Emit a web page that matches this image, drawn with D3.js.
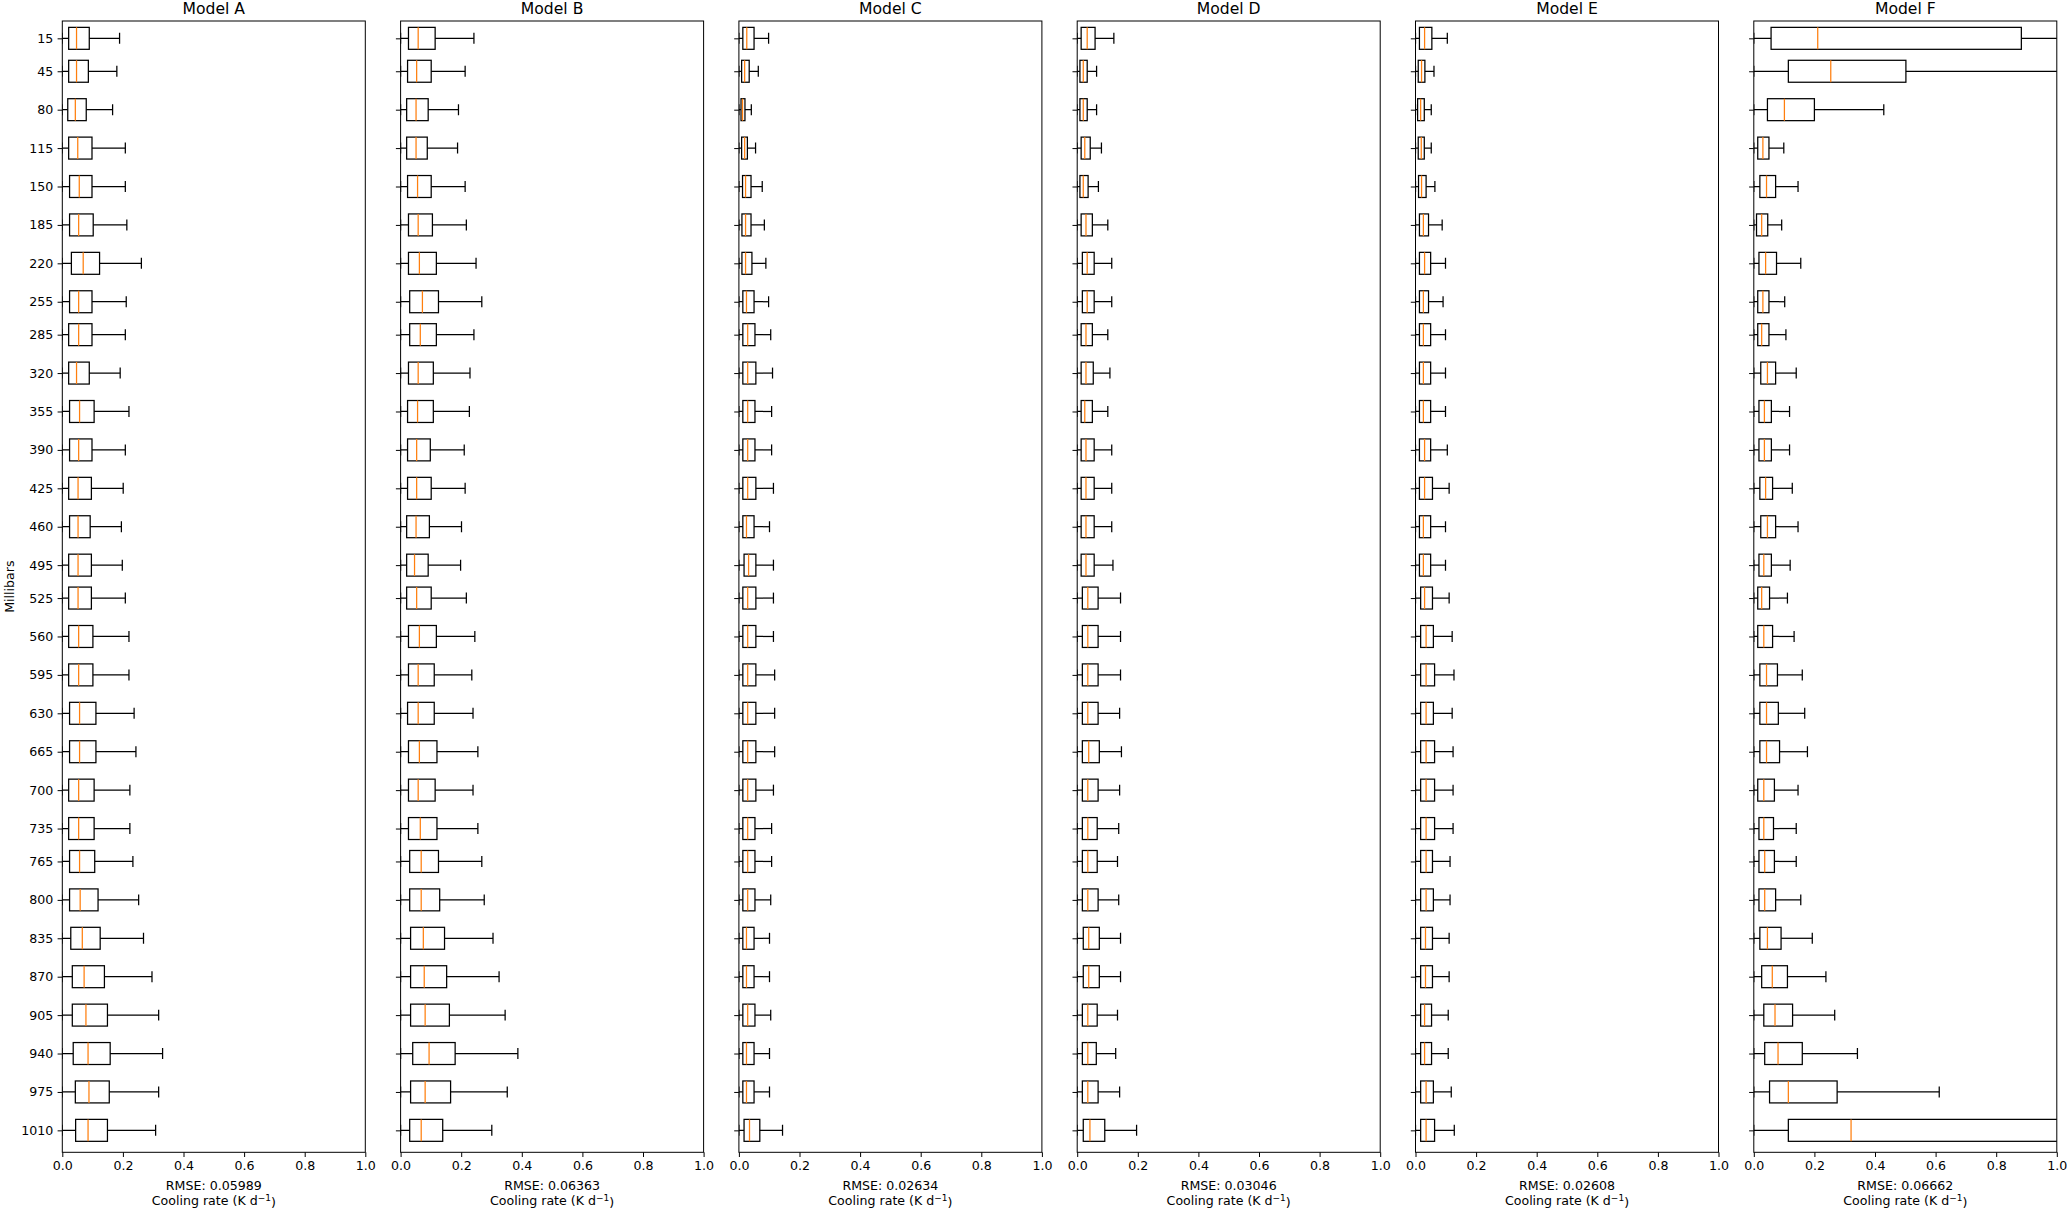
<!DOCTYPE html>
<html>
<head>
<meta charset="utf-8">
<script src="https://cdnjs.cloudflare.com/ajax/libs/d3/7.8.5/d3.min.js"></script>
<style>
  body { margin: 0; background: #fff; }
  text { font-family: "DejaVu Sans", sans-serif; fill: #000; }
</style>
</head>
<body>
<div id="chart"></div>
<script>
// pressure levels (mb), top to bottom
var levels = [15, 45, 80, 115, 150, 185, 220, 255, 285, 320, 355, 390, 425, 460, 495,
              525, 560, 595, 630, 665, 700, 735, 765, 800, 835, 870, 905, 940, 975, 1010];

var modelNames = ["Model A", "Model B", "Model C", "Model D", "Model E", "Model F"];
var rmseLabels = ["0.05989", "0.06363", "0.02634", "0.03046", "0.02608", "0.06662"];
var xTicks = [0.0, 0.2, 0.4, 0.6, 0.8, 1.0];

// lower whisker end, same for every model (reaches zero)
var lowWhisker = 0;

// rows per level: [q1, median, q3, upper whisker]
var modelA = [
  [0.021, 0.047, 0.089, 0.189], [0.021, 0.047, 0.086, 0.180], [0.018, 0.043, 0.079, 0.166],
  [0.021, 0.051, 0.098, 0.208], [0.024, 0.056, 0.098, 0.208], [0.024, 0.054, 0.102, 0.213],
  [0.030, 0.069, 0.123, 0.261], [0.024, 0.054, 0.098, 0.211], [0.021, 0.054, 0.098, 0.208],
  [0.021, 0.047, 0.089, 0.191], [0.024, 0.057, 0.105, 0.220], [0.024, 0.054, 0.098, 0.208],
  [0.021, 0.052, 0.096, 0.201], [0.024, 0.052, 0.092, 0.195], [0.021, 0.052, 0.096, 0.198],
  [0.021, 0.052, 0.096, 0.208], [0.021, 0.054, 0.101, 0.220], [0.021, 0.054, 0.101, 0.220],
  [0.024, 0.057, 0.111, 0.237], [0.024, 0.057, 0.111, 0.243], [0.021, 0.054, 0.105, 0.223],
  [0.021, 0.054, 0.105, 0.223], [0.024, 0.057, 0.107, 0.233], [0.024, 0.059, 0.118, 0.252],
  [0.028, 0.066, 0.125, 0.268], [0.033, 0.072, 0.139, 0.296], [0.033, 0.078, 0.149, 0.318],
  [0.036, 0.085, 0.158, 0.331], [0.043, 0.088, 0.155, 0.318], [0.044, 0.085, 0.149, 0.308]
];
var modelB = [
  [0.026, 0.058, 0.114, 0.242], [0.023, 0.053, 0.101, 0.213], [0.020, 0.051, 0.091, 0.191],
  [0.020, 0.051, 0.088, 0.188], [0.023, 0.056, 0.101, 0.213], [0.026, 0.058, 0.105, 0.217],
  [0.026, 0.062, 0.118, 0.249], [0.030, 0.072, 0.125, 0.268], [0.030, 0.065, 0.118, 0.242],
  [0.026, 0.058, 0.108, 0.229], [0.023, 0.056, 0.108, 0.227], [0.023, 0.053, 0.098, 0.210],
  [0.023, 0.053, 0.101, 0.213], [0.020, 0.051, 0.095, 0.201], [0.020, 0.046, 0.091, 0.198],
  [0.020, 0.053, 0.101, 0.217], [0.026, 0.062, 0.118, 0.245], [0.026, 0.058, 0.111, 0.235],
  [0.023, 0.058, 0.111, 0.239], [0.026, 0.062, 0.120, 0.255], [0.026, 0.058, 0.114, 0.239],
  [0.026, 0.065, 0.120, 0.255], [0.030, 0.068, 0.125, 0.268], [0.030, 0.068, 0.129, 0.276],
  [0.033, 0.075, 0.145, 0.305], [0.033, 0.078, 0.152, 0.325], [0.033, 0.081, 0.161, 0.345],
  [0.040, 0.094, 0.180, 0.387], [0.033, 0.081, 0.165, 0.352], [0.030, 0.068, 0.139, 0.301]
];
var modelC = [
  [0.013, 0.026, 0.050, 0.098], [0.009, 0.019, 0.034, 0.064], [0.007, 0.012, 0.020, 0.041],
  [0.009, 0.019, 0.028, 0.055], [0.012, 0.022, 0.040, 0.077], [0.010, 0.022, 0.040, 0.084],
  [0.010, 0.022, 0.043, 0.089], [0.013, 0.025, 0.050, 0.098], [0.013, 0.029, 0.053, 0.105],
  [0.013, 0.029, 0.056, 0.111], [0.013, 0.029, 0.053, 0.108], [0.013, 0.029, 0.053, 0.108],
  [0.013, 0.029, 0.056, 0.114], [0.013, 0.025, 0.050, 0.101], [0.017, 0.032, 0.056, 0.114],
  [0.013, 0.029, 0.056, 0.114], [0.013, 0.029, 0.056, 0.114], [0.013, 0.029, 0.056, 0.118],
  [0.013, 0.029, 0.056, 0.118], [0.013, 0.029, 0.056, 0.118], [0.013, 0.029, 0.056, 0.114],
  [0.013, 0.029, 0.053, 0.108], [0.013, 0.029, 0.053, 0.108], [0.013, 0.029, 0.053, 0.105],
  [0.013, 0.025, 0.050, 0.101], [0.013, 0.025, 0.050, 0.101], [0.013, 0.029, 0.053, 0.105],
  [0.013, 0.025, 0.050, 0.101], [0.013, 0.025, 0.050, 0.101], [0.017, 0.035, 0.069, 0.144]
];
var modelD = [
  [0.013, 0.033, 0.059, 0.121], [0.009, 0.020, 0.033, 0.064], [0.009, 0.020, 0.033, 0.064],
  [0.013, 0.025, 0.043, 0.080], [0.009, 0.020, 0.036, 0.070], [0.013, 0.029, 0.050, 0.101],
  [0.017, 0.033, 0.056, 0.114], [0.017, 0.033, 0.056, 0.114], [0.013, 0.029, 0.050, 0.101],
  [0.013, 0.029, 0.053, 0.108], [0.013, 0.025, 0.050, 0.101], [0.013, 0.029, 0.056, 0.114],
  [0.013, 0.029, 0.056, 0.114], [0.013, 0.029, 0.056, 0.114], [0.013, 0.029, 0.056, 0.118],
  [0.017, 0.035, 0.069, 0.143], [0.017, 0.035, 0.069, 0.143], [0.017, 0.035, 0.069, 0.143],
  [0.017, 0.035, 0.069, 0.140], [0.017, 0.038, 0.073, 0.146], [0.017, 0.035, 0.069, 0.140],
  [0.017, 0.035, 0.066, 0.137], [0.017, 0.035, 0.066, 0.133], [0.017, 0.035, 0.069, 0.137],
  [0.020, 0.038, 0.073, 0.143], [0.020, 0.038, 0.073, 0.143], [0.017, 0.035, 0.066, 0.133],
  [0.017, 0.035, 0.063, 0.127], [0.017, 0.035, 0.069, 0.140], [0.020, 0.042, 0.091, 0.196]
];
var modelE = [
  [0.013, 0.030, 0.054, 0.105], [0.009, 0.020, 0.031, 0.061], [0.007, 0.017, 0.029, 0.052],
  [0.009, 0.019, 0.029, 0.052], [0.010, 0.020, 0.035, 0.064], [0.013, 0.026, 0.043, 0.088],
  [0.013, 0.030, 0.050, 0.099], [0.013, 0.026, 0.043, 0.091], [0.013, 0.026, 0.050, 0.099],
  [0.013, 0.026, 0.050, 0.099], [0.013, 0.026, 0.050, 0.099], [0.013, 0.030, 0.050, 0.105],
  [0.013, 0.030, 0.056, 0.111], [0.013, 0.026, 0.050, 0.099], [0.013, 0.026, 0.050, 0.099],
  [0.017, 0.030, 0.056, 0.111], [0.017, 0.035, 0.059, 0.121], [0.017, 0.035, 0.063, 0.127],
  [0.017, 0.035, 0.059, 0.121], [0.017, 0.035, 0.063, 0.124], [0.017, 0.035, 0.063, 0.124],
  [0.017, 0.035, 0.063, 0.124], [0.017, 0.035, 0.056, 0.114], [0.017, 0.035, 0.059, 0.114],
  [0.017, 0.033, 0.056, 0.111], [0.017, 0.033, 0.056, 0.111], [0.017, 0.030, 0.053, 0.108],
  [0.017, 0.030, 0.053, 0.108], [0.017, 0.035, 0.059, 0.118], [0.017, 0.035, 0.063, 0.128]
];
var modelF = [
  [0.057, 0.211, 0.883, 1.200], [0.114, 0.254, 0.502, 1.100], [0.045, 0.101, 0.200, 0.429],
  [0.013, 0.030, 0.050, 0.099], [0.020, 0.042, 0.072, 0.146], [0.009, 0.026, 0.046, 0.092],
  [0.017, 0.039, 0.075, 0.155], [0.013, 0.030, 0.050, 0.102], [0.013, 0.026, 0.050, 0.106],
  [0.023, 0.045, 0.072, 0.140], [0.017, 0.035, 0.058, 0.118], [0.017, 0.035, 0.058, 0.118],
  [0.020, 0.039, 0.062, 0.127], [0.023, 0.045, 0.072, 0.146], [0.017, 0.033, 0.058, 0.120],
  [0.013, 0.026, 0.052, 0.111], [0.013, 0.033, 0.062, 0.133], [0.020, 0.042, 0.078, 0.160],
  [0.020, 0.042, 0.081, 0.168], [0.020, 0.042, 0.085, 0.177], [0.013, 0.033, 0.068, 0.146],
  [0.017, 0.033, 0.065, 0.140], [0.017, 0.036, 0.068, 0.140], [0.017, 0.036, 0.072, 0.155],
  [0.020, 0.045, 0.090, 0.193], [0.026, 0.061, 0.111, 0.238], [0.033, 0.070, 0.128, 0.267],
  [0.036, 0.080, 0.160, 0.342], [0.052, 0.114, 0.275, 0.612], [0.114, 0.321, 1.300, 2.000]
];
var allModels = [modelA, modelB, modelC, modelD, modelE, modelF];

// figure layout
var figW = 2067, figH = 1209;
var panelLeft = 62.3, panelW = 303, panelGap = 35.3;
var panelTop = 21, panelBottom = 1152.3;
var boxWidth = 20;   // box thickness in mb
var tickLen = 4.7;

var svg = d3.select("#chart")
  .append("svg")
    .attr("width", figW)
    .attr("height", figH);

var x = d3.scaleLinear().domain([0, 1]).range([0, panelW]);
var y = d3.scaleLinear().domain([-0.8, 1030]).range([panelTop, panelBottom]);
var capHalf = (y(boxWidth) - y(0)) / 4;
var boxHalf = (y(boxWidth) - y(0)) / 2;

var defs = svg.append("defs");
defs.append("clipPath")
    .attr("id", "panel-clip")
  .append("rect")
    .attr("x", 0)
    .attr("y", panelTop)
    .attr("width", panelW)
    .attr("height", panelBottom - panelTop);

modelNames.forEach(function(name, i) {
  var rows = allModels[i].map(function(r, j) {
    return {level: levels[j], q1: r[0], med: r[1], q3: r[2], hi: r[3]};
  });

  var g = svg.append("g")
    .attr("transform", "translate(" + (panelLeft + i * (panelW + panelGap)) + ",0)");

  // title
  g.append("text")
    .attr("x", panelW / 2)
    .attr("y", 13.5)
    .attr("text-anchor", "middle")
    .style("font-size", "15.6px")
    .text(name);

  // x axis
  var xAxis = g.append("g")
    .attr("transform", "translate(0," + panelBottom + ")")
    .call(d3.axisBottom(x).tickValues(xTicks).tickFormat(d3.format(".1f"))
      .tickSizeInner(tickLen).tickSizeOuter(0).tickPadding(4.4));
  xAxis.select(".domain").remove();
  xAxis.selectAll("text").style("font-size", "12.6px").attr("dy", "0.71em");
  xAxis.selectAll("line").attr("stroke", "#000").attr("stroke-width", 1);

  // y axis
  var yAxis = g.append("g")
    .call(d3.axisLeft(y).tickValues(levels).tickFormat(d3.format("d"))
      .tickSizeInner(tickLen).tickSizeOuter(0).tickPadding(4.4));
  yAxis.select(".domain").remove();
  yAxis.selectAll("line").attr("stroke", "#000").attr("stroke-width", 1);
  yAxis.selectAll("text").style("font-size", "12.6px");
  if (i > 0) yAxis.selectAll("text").remove();

  // x label
  g.append("text")
    .attr("x", panelW / 2)
    .attr("y", 1190)
    .attr("text-anchor", "middle")
    .style("font-size", "12.6px")
    .text("RMSE: " + rmseLabels[i]);
  var xl2 = g.append("text")
    .attr("x", panelW / 2)
    .attr("y", 1205)
    .attr("text-anchor", "middle")
    .style("font-size", "12.6px");
  xl2.append("tspan").text("Cooling rate (K d");
  xl2.append("tspan").attr("dy", "-0.45em").style("font-size", "9px").text("\u22121");
  xl2.append("tspan").attr("dy", "0.45em").text(")");

  // boxes
  var plot = g.append("g").attr("clip-path", "url(#panel-clip)");
  var bx = plot.selectAll("g.box")
    .data(rows)
    .join("g")
      .attr("class", "box");

  // whiskers
  bx.append("line")
    .attr("x1", x(lowWhisker)).attr("x2", function(d) { return x(d.q1); })
    .attr("y1", function(d) { return y(d.level); }).attr("y2", function(d) { return y(d.level); })
    .attr("stroke", "#000").attr("stroke-width", 1.25);
  bx.append("line")
    .attr("x1", function(d) { return x(d.q3); }).attr("x2", function(d) { return x(d.hi); })
    .attr("y1", function(d) { return y(d.level); }).attr("y2", function(d) { return y(d.level); })
    .attr("stroke", "#000").attr("stroke-width", 1.25);
  // caps
  bx.append("line")
    .attr("x1", x(lowWhisker)).attr("x2", x(lowWhisker))
    .attr("y1", function(d) { return y(d.level) - capHalf; })
    .attr("y2", function(d) { return y(d.level) + capHalf; })
    .attr("stroke", "#000").attr("stroke-width", 1.25);
  bx.append("line")
    .attr("x1", function(d) { return x(d.hi); }).attr("x2", function(d) { return x(d.hi); })
    .attr("y1", function(d) { return y(d.level) - capHalf; })
    .attr("y2", function(d) { return y(d.level) + capHalf; })
    .attr("stroke", "#000").attr("stroke-width", 1.25);
  // box
  bx.append("rect")
    .attr("x", function(d) { return x(d.q1); })
    .attr("width", function(d) { return x(d.q3) - x(d.q1); })
    .attr("y", function(d) { return y(d.level) - boxHalf; })
    .attr("height", boxHalf * 2)
    .attr("fill", "none")
    .attr("stroke", "#000").attr("stroke-width", 1.25);
  // median
  bx.append("line")
    .attr("x1", function(d) { return x(d.med); }).attr("x2", function(d) { return x(d.med); })
    .attr("y1", function(d) { return y(d.level) - boxHalf; })
    .attr("y2", function(d) { return y(d.level) + boxHalf; })
    .attr("stroke", "#ff7f0e").attr("stroke-width", 1.25);

  // frame
  g.append("rect")
    .attr("x", 0).attr("y", panelTop)
    .attr("width", panelW).attr("height", panelBottom - panelTop)
    .attr("fill", "none").attr("stroke", "#000").attr("stroke-width", 1);
});

// y label
svg.append("text")
  .attr("transform", "translate(14," + ((panelTop + panelBottom) / 2) + ") rotate(-90)")
  .attr("text-anchor", "middle")
  .style("font-size", "12.6px")
  .text("Millibars");
</script>
</body>
</html>
